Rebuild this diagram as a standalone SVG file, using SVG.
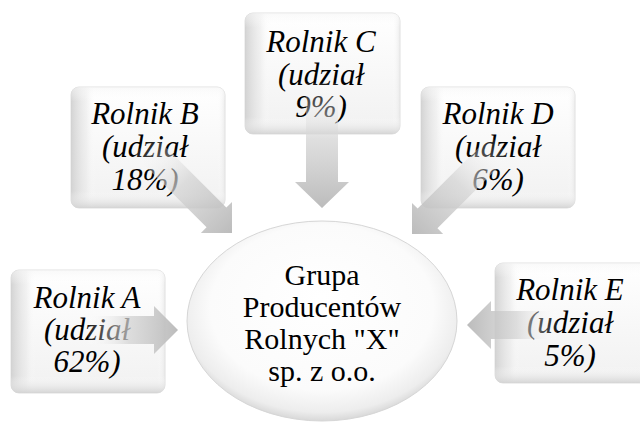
<svg xmlns="http://www.w3.org/2000/svg" width="640" height="423" viewBox="0 0 640 423">
<defs>
<linearGradient id="boxFill" x1="0" y1="0" x2="0" y2="1">
<stop offset="0" stop-color="#ffffff"/>
<stop offset="1" stop-color="#f1f1f1"/>
</linearGradient>
<linearGradient id="bevelL" x1="0" y1="0" x2="1" y2="0">
<stop offset="0" stop-color="#cfcfcf" stop-opacity="0.9"/>
<stop offset="0.1" stop-color="#e6e6e6" stop-opacity="0.5"/>
<stop offset="0.16" stop-color="#ffffff" stop-opacity="0"/>
<stop offset="0.95" stop-color="#ffffff" stop-opacity="0"/>
<stop offset="1" stop-color="#e4e4e4" stop-opacity="0.7"/>
</linearGradient>
<linearGradient id="bevelB" x1="0" y1="0" x2="0" y2="1">
<stop offset="0" stop-color="#f4f4f4" stop-opacity="0.6"/>
<stop offset="0.12" stop-color="#ffffff" stop-opacity="0"/>
<stop offset="0.86" stop-color="#ffffff" stop-opacity="0"/>
<stop offset="1" stop-color="#d2d2d2" stop-opacity="0.9"/>
</linearGradient>
<radialGradient id="ellFill" cx="0.5" cy="0.45" r="0.55" fx="0.5" fy="0.38">
<stop offset="0" stop-color="#ffffff"/>
<stop offset="0.75" stop-color="#fbfbfb"/>
<stop offset="0.93" stop-color="#ededed"/>
<stop offset="1" stop-color="#d8d8d8"/>
</radialGradient>
<linearGradient id="arrFill" x1="0" y1="0" x2="1" y2="0">
<stop offset="0" stop-color="#ffffff" stop-opacity="0.1"/>
<stop offset="0.45" stop-color="#d4d4d4" stop-opacity="0.75"/>
<stop offset="1" stop-color="#b8b8b8" stop-opacity="0.95"/>
</linearGradient>
</defs>
<style>
.box{fill:url(#boxFill);stroke:#e0e0e0;stroke-width:1}
.bl{fill:url(#bevelL)}
.bb{fill:url(#bevelB)}
.ell{fill:url(#ellFill);stroke:#d6d6d6;stroke-width:1}
.t{font-family:'Liberation Serif','Times New Roman',serif;font-style:italic;font-size:31px;fill:#000;text-anchor:middle}
.c{font-family:'Liberation Serif','Times New Roman',serif;font-size:30px;fill:#000;text-anchor:middle}
.arrow{fill:url(#arrFill)}
</style>
<rect width="640" height="423" fill="#ffffff"/>

<g id="nodeA">
<rect class="box" x="11" y="270" width="154" height="123" rx="8"/>
<rect class="bl" x="11" y="270" width="154" height="123" rx="8"/>
<rect class="bb" x="11" y="270" width="154" height="123" rx="8"/>
<text class="t" x="87" y="308">Rolnik A</text>
<text class="t" x="87" y="340">(udział</text>
<text class="t" x="87" y="372">62%)</text>
</g>

<g id="nodeB">
<rect class="box" x="71" y="87" width="154" height="121" rx="8"/>
<rect class="bl" x="71" y="87" width="154" height="121" rx="8"/>
<rect class="bb" x="71" y="87" width="154" height="121" rx="8"/>
<text class="t" x="145" y="124">Rolnik B</text>
<text class="t" x="145" y="157">(udział</text>
<text class="t" x="145" y="190">18%)</text>
</g>

<g id="nodeC">
<rect class="box" x="245" y="13" width="155" height="121" rx="8"/>
<rect class="bl" x="245" y="13" width="155" height="121" rx="8"/>
<rect class="bb" x="245" y="13" width="155" height="121" rx="8"/>
<text class="t" x="321" y="52">Rolnik C</text>
<text class="t" x="321" y="85">(udział</text>
<text class="t" x="321" y="117">9%)</text>
</g>

<g id="nodeD">
<rect class="box" x="421" y="87" width="154" height="121" rx="8"/>
<rect class="bl" x="421" y="87" width="154" height="121" rx="8"/>
<rect class="bb" x="421" y="87" width="154" height="121" rx="8"/>
<text class="t" x="498" y="124">Rolnik D</text>
<text class="t" x="498" y="157">(udział</text>
<text class="t" x="498" y="190">6%)</text>
</g>

<g id="nodeE">
<rect class="box" x="495" y="263" width="155" height="120" rx="8"/>
<rect class="bl" x="495" y="263" width="155" height="120" rx="8"/>
<rect class="bb" x="495" y="263" width="155" height="120" rx="8"/>
<text class="t" x="570" y="300">Rolnik E</text>
<text class="t" x="570" y="333">(udział</text>
<text class="t" x="570" y="366">5%)</text>
</g>

<g id="center">
<ellipse class="ell" cx="322" cy="321" rx="135" ry="100"/>
<text class="c" x="322" y="285">Grupa</text>
<text class="c" x="322" y="317">Producentów</text>
<text class="c" x="322" y="349">Rolnych "X"</text>
<text class="c" x="322" y="381">sp. z o.o.</text>
</g>

<g id="connectors">
<g transform="translate(178,330)"><path class="arrow" d="M -90,-14 L -24,-14 L -24,-24 L 0,0 L -24,24 L -24,14 L -90,14 Z"/></g>
<g transform="translate(232,233) rotate(45)"><path class="arrow" d="M -125,-14 L -22,-14 L -22,-22 L 0,0 L -22,22 L -22,14 L -125,14 Z"/></g>
<g transform="translate(322,208) rotate(90)"><path class="arrow" d="M -125,-16 L -26,-16 L -26,-27 L 0,0 L -26,27 L -26,16 L -125,16 Z"/></g>
<g transform="translate(412,234) rotate(135)"><path class="arrow" d="M -125,-14 L -22,-14 L -22,-22 L 0,0 L -22,22 L -22,14 L -125,14 Z"/></g>
<g transform="translate(467,325) rotate(180)"><path class="arrow" d="M -90,-14 L -24,-14 L -24,-24 L 0,0 L -24,24 L -24,14 L -90,14 Z"/></g>
</g>
</svg>
